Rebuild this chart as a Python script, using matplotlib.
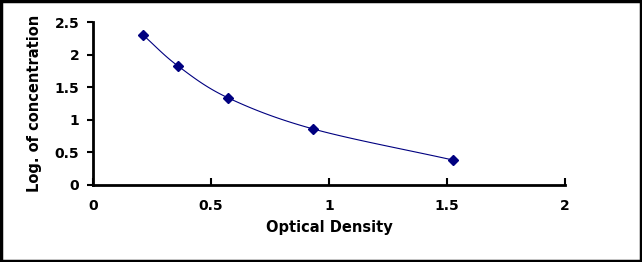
import numpy as np
import matplotlib
matplotlib.use("Agg")
import matplotlib.pyplot as plt
from matplotlib.patches import Rectangle

# data
od = [0.212, 0.36, 0.573, 0.932, 1.525]
log_conc = [2.30, 1.825, 1.335, 0.86, 0.383]

x_ticks = [0, 0.5, 1, 1.5, 2]
y_ticks = [0, 0.5, 1, 1.5, 2, 2.5]


def smooth_curve(x, y, n=30):
    """Excel-style smoothed line (Catmull-Rom through the points)."""
    x = np.asarray(x, float)
    y = np.asarray(y, float)
    px = np.concatenate([[2 * x[0] - x[1]], x, [2 * x[-1] - x[-2]]])
    py = np.concatenate([[2 * y[0] - y[1]], y, [2 * y[-1] - y[-2]]])
    t = np.linspace(0, 1, n)
    xs, ys = [], []
    for i in range(1, len(px) - 2):
        for p, out in ((px, xs), (py, ys)):
            p0, p1, p2, p3 = p[i - 1], p[i], p[i + 1], p[i + 2]
            out.extend(0.5 * (2 * p1 + (-p0 + p2) * t
                              + (2 * p0 - 5 * p1 + 4 * p2 - p3) * t ** 2
                              + (-p0 + 3 * p1 - 3 * p2 + p3) * t ** 3))
    return np.array(xs), np.array(ys)


plt.rcParams['font.family'] = ['DejaVu Sans']
plt.rcParams['font.weight'] = 'bold'

fig = plt.figure(figsize=(6.42, 2.62), dpi=100)
ax = fig.add_axes([0.145, 0.294, 0.735, 0.622])

sx, sy = smooth_curve(od, log_conc)
ax.plot(sx, sy, color='#000080', lw=0.8)
ax.plot(od, log_conc, linestyle='none', marker='D', markersize=5,
        color='#000080')

ax.set_xlim(0, 2)
ax.set_ylim(0, 2.5)
ax.set_xticks(x_ticks)
ax.set_yticks(y_ticks)
ax.set_xticklabels(['0', '0.5', '1', '1.5', '2'], fontsize=10, fontweight='bold')
ax.set_yticklabels(['0', '0.5', '1', '1.5', '2', '2.5'], fontsize=10, fontweight='bold')
ax.tick_params(axis='x', direction='in', length=5, width=1.5, pad=10)
ax.tick_params(axis='y', direction='out', length=4, width=1.5, pad=6)

ax.spines['top'].set_visible(False)
ax.spines['right'].set_visible(False)
ax.spines['left'].set_linewidth(2)
ax.spines['bottom'].set_linewidth(2)

ax.set_xlabel('Optical Density', fontsize=10.5, fontweight='bold', labelpad=5)
ax.set_ylabel('Log. of concentration', fontsize=10.5, fontweight='bold', labelpad=9)

# outer frame
fig.patches.append(Rectangle((0.002, 0.004), 0.996, 0.992, transform=fig.transFigure,
                             fill=False, edgecolor='black', linewidth=2.5))

fig.savefig('out.png', dpi=100)
